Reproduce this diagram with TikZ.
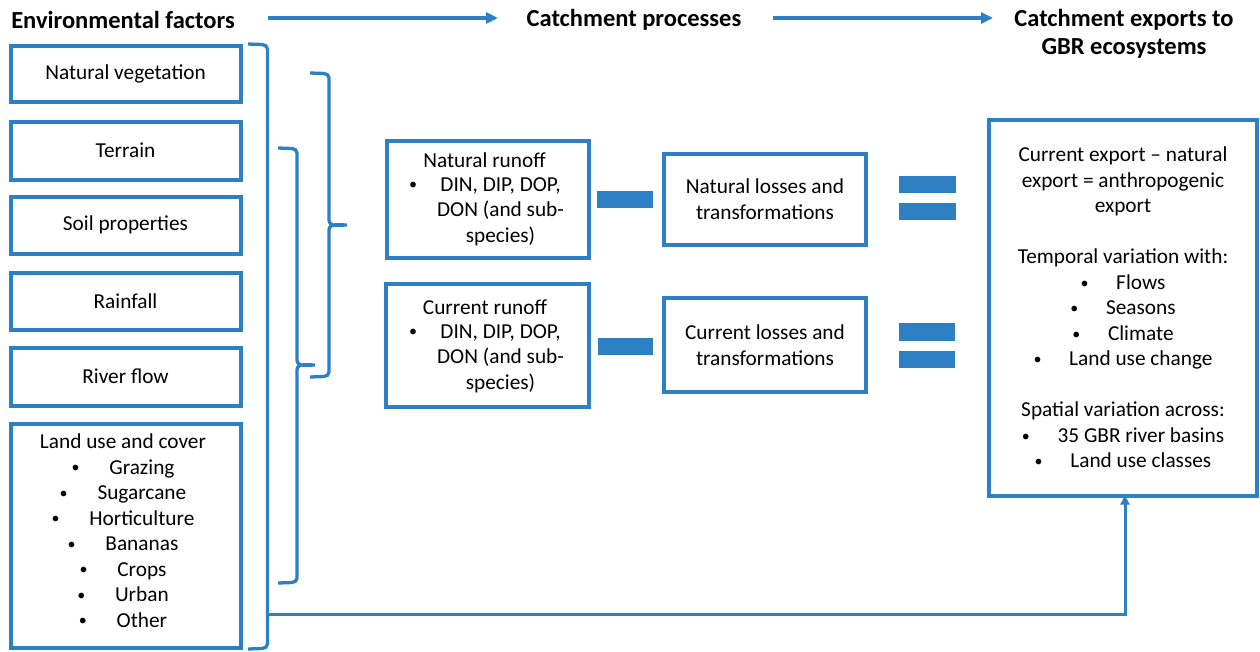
\documentclass[tikz,border=0pt]{standalone}
\usepackage{fontspec}
\setmainfont{Carlito}
\usetikzlibrary{arrows.meta,calc}
\definecolor{cblue}{RGB}{46,128,196}
\newcommand\mybul{\raisebox{1.2pt}{\fontsize{16}{16}\selectfont\textbullet}}
\begin{document}
\begin{tikzpicture}[x=1pt,y=-1pt,
  every node/.style={font=\fontsize{21.3}{25.5}\selectfont, inner sep=0pt, outer sep=0pt},
  head/.style={font=\fontsize{24.5}{28}\selectfont\bfseries, align=center},
  box/.style={draw=cblue, line width=4pt},
  bar/.style={fill=cblue, inner sep=0pt},
  brace/.style={draw=cblue, line width=3.3pt},
  tarr/.style={draw=cblue, line width=3.3pt, -{Triangle[length=12pt,width=11pt]}},
  barr/.style={draw=cblue, line width=3pt, -{Triangle[length=9pt,width=9pt]}},
  bl/.style={align=center}
]
\useasboundingbox (0,0) rectangle (1260,651);

% headings
\node[head] (h1) at (123,20) {Environmental factors};
\node[head] (h2) at (634,20) {Catchment processes};
\node[head] (h3) at (1124,34) {Catchment exports to\\GBR ecosystems};
\coordinate (a1s) at (268,18);
\coordinate (a1e) at (498,18);
\coordinate (a2s) at (773,18);
\coordinate (a2e) at (993,18);
\draw[tarr] (a1s) -- (a1e);
\draw[tarr] (a2s) -- (a2e);

% left boxes
\node[box, minimum width=230, minimum height=56] (NV) at (125.5,73.5) {Natural vegetation};
\node[box, minimum width=230, minimum height=58] (TR) at (125.5,150.5) {Terrain};
\node[box, minimum width=230, minimum height=57] (SP) at (125.5,225) {Soil properties};
\node[box, minimum width=230, minimum height=57] (RF) at (125.5,301) {Rainfall};
\node[box, minimum width=230, minimum height=58] (RV) at (125.5,376.5) {River flow};
\node[box, minimum width=230, minimum height=224] (LU) at (125.5,535.5) {};
\node[bl] (LUt) at (123,530.5) {Land use and cover\\
\mybul\hspace{1.4em}Grazing\\
\mybul\hspace{1.4em}Sugarcane\\
\mybul\hspace{1.4em}Horticulture\\
\mybul\hspace{1.4em}Bananas\\
\mybul\hspace{1.4em}Crops\\
\mybul\hspace{1.4em}Urban\\
\mybul\hspace{1.4em}Other};

% braces
\draw[brace] (248,44) -- (262,44.5) to[out=0,in=90] (267.5,49) -- (267.5,644) to[out=-90,in=0] (262,648.5) -- (248,649);
\draw[brace] (278,148) -- (292,148.5) to[out=0,in=90] (297,153) -- (297,360) to[out=-90,in=180] (315,365)
             to[out=180,in=90] (297,370) -- (297,578) to[out=-90,in=0] (292,582.5) -- (278,583);
\draw[brace] (310,73) -- (324,73.5) to[out=0,in=90] (329,78) -- (329,220) to[out=-90,in=180] (347,225)
             to[out=180,in=90] (329,230) -- (329,372) to[out=-90,in=0] (324,376.5) -- (310,377);

% middle boxes
\node[box, minimum width=202, minimum height=117] (NR) at (487.5,199) {};
\node (NRt) at (484.5,160) {Natural runoff};
\node (NRb) at (413,186) {\mybul};
\node[bl] (NRl) at (500.5,211.5) {DIN, DIP, DOP,\\DON (and sub-\\species)};

\node[box, minimum width=202, minimum height=91, align=center] (NL) at (765,199) {Natural losses and\\transformations};

\node[box, minimum width=203, minimum height=123] (CR) at (487.5,345) {};
\node (CRt) at (485,307) {Current runoff};
\node (CRb) at (413,333) {\mybul};
\node[bl] (CRl) at (500.5,358.5) {DIN, DIP, DOP,\\DON (and sub-\\species)};

\node[box, minimum width=202, minimum height=94, align=center] (CL) at (765,345) {Current losses and\\transformations};

% operators
\node[bar, minimum width=56, minimum height=17] (M1) at (625,199.5) {};
\node[bar, minimum width=55, minimum height=17] (M2) at (625.5,346.5) {};
\node[bar, minimum width=57, minimum height=17] (E1a) at (927.5,184.5) {};
\node[bar, minimum width=57, minimum height=17] (E1b) at (927.5,211.5) {};
\node[bar, minimum width=56, minimum height=18] (E2a) at (927,332) {};
\node[bar, minimum width=56, minimum height=17] (E2b) at (927,359.5) {};

% right box
\node[box, minimum width=268, minimum height=376, align=center] (RB) at (1123,307.5) {Current export -- natural\\
export = anthropogenic\\
export\\[25.5pt]
Temporal variation with:\\
\mybul\hspace{1.3em}Flows\\
\mybul\hspace{1.3em}Seasons\\
\mybul\hspace{1.3em}Climate\\
\mybul\hspace{1.3em}Land use change\\[25.5pt]
Spatial variation across:\\
\mybul\hspace{1.3em}35 GBR river basins\\
\mybul\hspace{1.3em}Land use classes};

% bottom connector
\coordinate (lb) at (268,614);
\draw[barr] (lb) -| ([xshift=2pt]RB.south);
\end{tikzpicture}
\end{document}
